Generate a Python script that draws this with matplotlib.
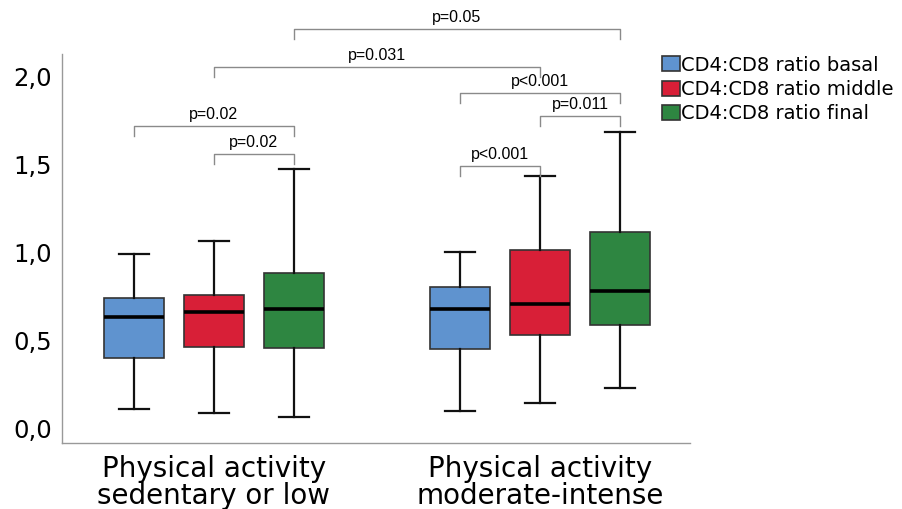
import matplotlib.pyplot as plt

# datos (cuartiles y bigotes)
grupos = ["Physical activity\nsedentary or low", "Physical activity\nmoderate-intense"]
series = ["CD4:CD8 ratio basal", "CD4:CD8 ratio middle", "CD4:CD8 ratio final"]
colores = ["#5f93cf", "#d81f37", "#2e8641"]

bigote_inf = [[0.11, 0.085, 0.062], [0.097, 0.142, 0.23]]
q1 = [[0.40, 0.463, 0.455], [0.45, 0.528, 0.587]]
mediana = [[0.63, 0.66, 0.68], [0.677, 0.704, 0.78]]
q3 = [[0.74, 0.757, 0.884], [0.805, 1.014, 1.116]]
bigote_sup = [[0.99, 1.065, 1.475], [1.002, 1.433, 1.684]]

# comparaciones: (grupo_a, serie_a, grupo_b, serie_b, altura, texto)
comparaciones = [
    (0, 0, 0, 2, 1.72, "p=0.02"),
    (0, 1, 0, 2, 1.56, "p=0.02"),
    (1, 0, 1, 1, 1.49, "p<0.001"),
    (1, 1, 1, 2, 1.777, "p=0.011"),
    (1, 0, 1, 2, 1.908, "p<0.001"),
    (0, 1, 1, 1, 2.056, "p=0.031"),
    (0, 2, 1, 2, 2.272, "p=0.05"),
]

desplaz = 0.245
ancho = 0.184

fig = plt.figure(figsize=(9.02, 5.09), dpi=100)
ax = fig.add_axes([0.0687, 0.1297, 0.6963, 0.7643])

def posicion(g, s):
    return 1 + g + (s - 1) * desplaz

for s in range(3):
    stats = []
    pos = []
    for g in range(2):
        stats.append({"whislo": bigote_inf[g][s], "q1": q1[g][s], "med": mediana[g][s],
                      "q3": q3[g][s], "whishi": bigote_sup[g][s], "fliers": []})
        pos.append(posicion(g, s))
    ax.bxp(stats, positions=pos, widths=ancho, patch_artist=True, showfliers=False,
           capwidths=ancho / 2,
           boxprops=dict(facecolor=colores[s], edgecolor="#333333", linewidth=1.2),
           medianprops=dict(color="black", linewidth=2.6),
           whiskerprops=dict(color="#111111", linewidth=1.6),
           capprops=dict(color="#111111", linewidth=1.6),
           label=series[s])

# corchetes con p-valores
for ga, sa, gb, sb, h, txt in comparaciones:
    xa = posicion(ga, sa)
    xb = posicion(gb, sb)
    ax.plot([xa, xa, xb, xb], [h - 0.055, h, h, h - 0.055], color="#8a8a8a",
            linewidth=1, clip_on=False)
    ax.text((xa + xb) / 2, h + 0.025, txt, ha="center", va="bottom",
            fontsize=11.5, family="Liberation Sans", clip_on=False)

ax.set_xlim(0.534, 2.46)
ax.set_ylim(-0.085, 2.13)
ax.set_yticks([0, 0.5, 1.0, 1.5, 2.0])
ax.set_yticklabels(["0,0", "0,5", "1,0", "1,5", "2,0"], fontsize=17.5)
ax.set_xticks([1, 2])
ax.set_xticklabels(grupos, fontsize=20, linespacing=0.95)
ax.tick_params(length=0)
ax.tick_params(axis="y", pad=7)
ax.tick_params(axis="x", pad=9)

for lado in ["top", "right"]:
    ax.spines[lado].set_visible(False)
for lado in ["left", "bottom"]:
    ax.spines[lado].set_color("#999999")
    ax.spines[lado].set_linewidth(1)

ax.legend(loc="upper left", bbox_to_anchor=(0.943, 1.016), frameon=False,
          fontsize=14, handlelength=0.9, handleheight=0.8, handletextpad=0.1,
          labelspacing=0.28, borderaxespad=0)

plt.savefig("out.png", dpi=100)
